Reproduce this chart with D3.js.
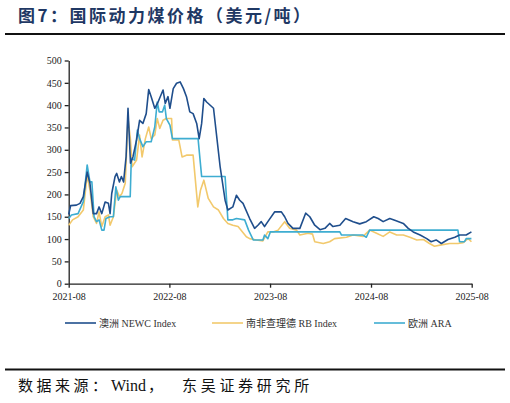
<!DOCTYPE html>
<html lang="zh">
<head>
<meta charset="UTF-8">
<title>国际动力煤价格</title>
<script src="https://d3js.org/d3.v7.min.js"></script>
<style>
    body { margin: 0; background: #fff; }
    .axis path, .axis line { stroke: #222; stroke-width: 1.3px; }
    .axis text { font-family: "Liberation Serif", "Times New Roman", serif; font-size: 10px; fill: #222; }
    .legend text { font-family: "Liberation Serif", "Noto Sans CJK SC", serif; font-size: 10px; fill: #333; }
</style>
</head>
<body>
<div id="chart"></div>
<script>
// series names and colours
const seriesNames = ["澳洲 NEWC Index", "南非查理德 RB Index", "欧洲 ARA"];
const seriesColors = ["#1f4e8c", "#f2c96c", "#3eadd1"];
const xTicks = ["2021-08", "2022-08", "2023-08", "2024-08", "2025-08"];
const yTicks = [0, 50, 100, 150, 200, 250, 300, 350, 400, 450, 500];

// 澳洲 NEWC
const newcDates = ["2021-08-01","2021-08-08","2021-08-29","2021-09-11","2021-09-23","2021-10-07","2021-10-17","2021-10-29",
    "2021-11-10","2021-11-19","2021-11-29","2021-12-11","2021-12-23","2021-12-29","2022-01-04","2022-01-16","2022-01-22",
    "2022-02-01","2022-02-08","2022-02-16","2022-02-25","2022-03-04","2022-03-13","2022-03-22","2022-04-04","2022-04-15",
    "2022-04-27","2022-05-09","2022-05-18","2022-05-27","2022-06-09","2022-06-21","2022-07-09","2022-07-17","2022-07-27",
    "2022-08-03","2022-08-15","2022-08-27","2022-09-09","2022-09-21","2022-10-02","2022-10-14","2022-10-26","2022-11-08",
    "2022-11-17","2022-11-26","2022-12-04","2022-12-14","2023-01-08","2023-02-01","2023-02-19","2023-03-01","2023-03-19",
    "2023-04-01","2023-04-13","2023-04-25","2023-05-19","2023-06-06","2023-06-18","2023-06-30","2023-07-12","2023-07-24",
    "2023-08-18","2023-09-11","2023-09-23","2023-10-05","2023-10-23","2023-11-17","2023-12-08","2023-12-23","2024-01-10",
    "2024-01-29","2024-02-16","2024-03-04","2024-03-16","2024-04-10","2024-05-01","2024-05-28","2024-06-21","2024-07-15",
    "2024-08-11","2024-08-27","2024-09-14","2024-10-08","2024-10-26","2024-11-26","2024-12-14","2025-01-01","2025-01-26",
    "2025-02-19","2025-03-07","2025-03-25","2025-04-13","2025-05-07","2025-06-01","2025-06-18","2025-07-12","2025-07-31"];
const newcValues = [155,175,176,180,195,250,225,157,
    157,172,157,183,180,157,202,240,247,
    228,240,228,284,393,270,284,322,366,
    359,381,435,419,393,407,434,404,419,
    393,437,449,452,437,419,385,381,359,
    325,359,415,407,393,262,187,165,172,
    198,187,180,146,124,131,139,128,139,
    161,161,150,135,124,124,158,150,131,
    121,124,135,128,131,146,139,134,139,
    150,146,139,146,142,135,124,116,109,
    101,94,98,90,99,104,109,109,116];

// 南非理查德 RB
const rbDates = ["2021-08-01","2021-08-15","2021-09-04","2021-09-23","2021-10-07","2021-10-17","2021-10-29","2021-11-10",
    "2021-11-19","2021-11-29","2021-12-11","2021-12-23","2021-12-29","2022-01-10","2022-01-22","2022-02-01","2022-02-10",
    "2022-02-22","2022-03-04","2022-03-13","2022-03-19","2022-04-04","2022-04-15","2022-04-24","2022-05-06","2022-05-18",
    "2022-05-27","2022-06-09","2022-06-18","2022-06-27","2022-07-09","2022-07-21","2022-08-09","2022-08-12","2022-09-04",
    "2022-09-16","2022-10-02","2022-10-26","2022-11-01","2022-11-12","2022-11-22","2022-12-04","2022-12-20","2023-01-08",
    "2023-01-26","2023-02-13","2023-03-01","2023-03-19","2023-04-07","2023-05-07","2023-05-19","2023-06-12","2023-07-06",
    "2023-07-24","2023-08-12","2023-08-30","2023-09-23","2023-10-11","2023-11-05","2023-11-17","2023-12-17","2024-01-02",
    "2024-01-10","2024-02-10","2024-03-04","2024-03-22","2024-05-04","2024-05-28","2024-07-03","2024-07-27","2024-08-21",
    "2024-09-14","2024-10-08","2024-11-02","2024-11-26","2024-12-20","2025-01-14","2025-02-07","2025-03-01","2025-03-19",
    "2025-04-13","2025-05-13","2025-06-12","2025-07-01","2025-07-19","2025-07-31"];
const rbValues = [131,143,150,165,243,210,150,135,
    161,128,150,154,131,150,210,195,202,
    225,370,322,262,277,333,284,325,351,
    325,333,370,348,366,370,370,322,322,
    284,288,288,247,172,210,232,191,172,
    165,146,135,131,128,105,101,98,96,
    116,116,120,139,124,120,109,113,111,
    94,90,94,101,104,109,106,120,113,
    106,116,109,109,104,98,99,90,84,
    87,90,90,92,101,94];

// 欧洲 ARA
const araDates = ["2021-08-01","2021-08-11","2021-09-04","2021-09-23","2021-10-07","2021-10-17","2021-10-24","2021-11-01",
    "2021-11-10","2021-11-19","2021-11-29","2021-12-07","2021-12-14","2021-12-29","2022-01-10","2022-01-19","2022-01-28",
    "2022-02-04","2022-03-12","2022-03-16","2022-03-28","2022-04-07","2022-04-15","2022-04-27","2022-05-09","2022-05-27",
    "2022-06-09","2022-06-18","2022-06-25","2022-07-07","2022-07-15","2022-07-21","2022-08-03","2022-08-12","2022-11-13",
    "2022-11-26","2023-02-19","2023-03-01","2023-03-19","2023-04-01","2023-05-01","2023-05-15","2023-06-01","2023-07-06",
    "2023-07-12","2023-07-24","2023-08-02","2024-04-10","2024-04-16","2024-07-03","2024-07-15","2024-07-27","2025-06-12",
    "2025-06-18","2025-07-06","2025-07-12","2025-07-31"];
const araValues = [146,154,157,184,266,228,228,150,
    139,143,120,120,146,150,150,217,187,
    195,195,281,277,344,325,307,318,318,
    351,407,385,385,400,370,355,325,325,
    240,240,143,143,146,143,120,98,98,
    109,101,116,116,109,109,104,120,120,
    94,94,101,101];

const width = 510, height = 403;
const margin = { left: 68.7, right: 38.3, top: 60.5, bottom: 119.3 };
const innerW = width - margin.left - margin.right;
const innerH = height - margin.top - margin.bottom;
const parse = d3.timeParse("%Y-%m-%d");
const parseMonth = d3.timeParse("%Y-%m");

const svg = d3.select("#chart").append("svg")
    .attr("width", width)
    .attr("height", height);

// title and rules
svg.append("text")
    .attr("x", 18).attr("y", 22)
    .attr("font-family", "'Noto Sans CJK SC', sans-serif")
    .attr("font-weight", "bold")
    .attr("font-size", 17)
    .attr("letter-spacing", 2.5)
    .attr("fill", "#1f3864")
    .text("图7：国际动力煤价格（美元/吨）");
svg.append("rect").attr("x", 5).attr("y", 33).attr("width", 500).attr("height", 2).attr("fill", "#111");
svg.append("rect").attr("x", 5).attr("y", 368.5).attr("width", 500).attr("height", 2).attr("fill", "#111");

// source line: CJK parts spaced out, "Wind" set normally
const source = svg.append("text")
    .attr("y", 391)
    .attr("font-family", "'Liberation Serif', 'Noto Sans CJK SC', serif")
    .attr("font-size", 15)
    .attr("fill", "#111");
source.append("tspan").attr("x", 18).attr("letter-spacing", 3.5).text("数据来源：");
source.append("tspan").attr("x", 111).attr("font-size", 16).text("Wind");
source.append("tspan").attr("x", 148).text("，");
source.append("tspan").attr("x", 182).attr("letter-spacing", 3.7).text("东吴证券研究所");

const g = svg.append("g").attr("transform", `translate(${margin.left},${margin.top})`);

const x = d3.scaleTime()
    .domain([parseMonth(xTicks[0]), parseMonth(xTicks[xTicks.length - 1])])
    .range([0, innerW]);
const y = d3.scaleLinear().domain([0, 500]).range([innerH, 0]);

g.append("g").attr("class", "axis")
    .attr("transform", `translate(0,${innerH})`)
    .call(d3.axisBottom(x).tickValues(xTicks.map(parseMonth)).tickFormat(d3.timeFormat("%Y-%m")).tickSizeInner(4).tickSizeOuter(0))
    .selectAll("text").attr("dy", "0.9em");

g.append("g").attr("class", "axis")
    .call(d3.axisLeft(y).tickValues(yTicks).tickSizeInner(4).tickSizeOuter(0));

const line = d3.line()
    .x(d => x(d[0]))
    .y(d => y(d[1]));

const series = [
    d3.zip(newcDates.map(parse), newcValues),
    d3.zip(rbDates.map(parse), rbValues),
    d3.zip(araDates.map(parse), araValues)
];

// draw yellow first, then cyan, then dark blue on top
[1, 2, 0].forEach(i => {
    g.append("path")
        .datum(series[i])
        .attr("fill", "none")
        .attr("stroke", seriesColors[i])
        .attr("stroke-width", 1.6)
        .attr("stroke-linejoin", "round")
        .attr("d", line);
});

// legend
const legendX = [65, 212, 374];
const legend = svg.append("g").attr("class", "legend");
seriesNames.forEach((name, i) => {
    legend.append("line")
        .attr("x1", legendX[i]).attr("x2", legendX[i] + 31)
        .attr("y1", 323).attr("y2", 323)
        .attr("stroke", seriesColors[i]).attr("stroke-width", 1.6);
    legend.append("text")
        .attr("x", legendX[i] + 34).attr("y", 326.5)
        .text(name);
});
</script>
</body>
</html>
